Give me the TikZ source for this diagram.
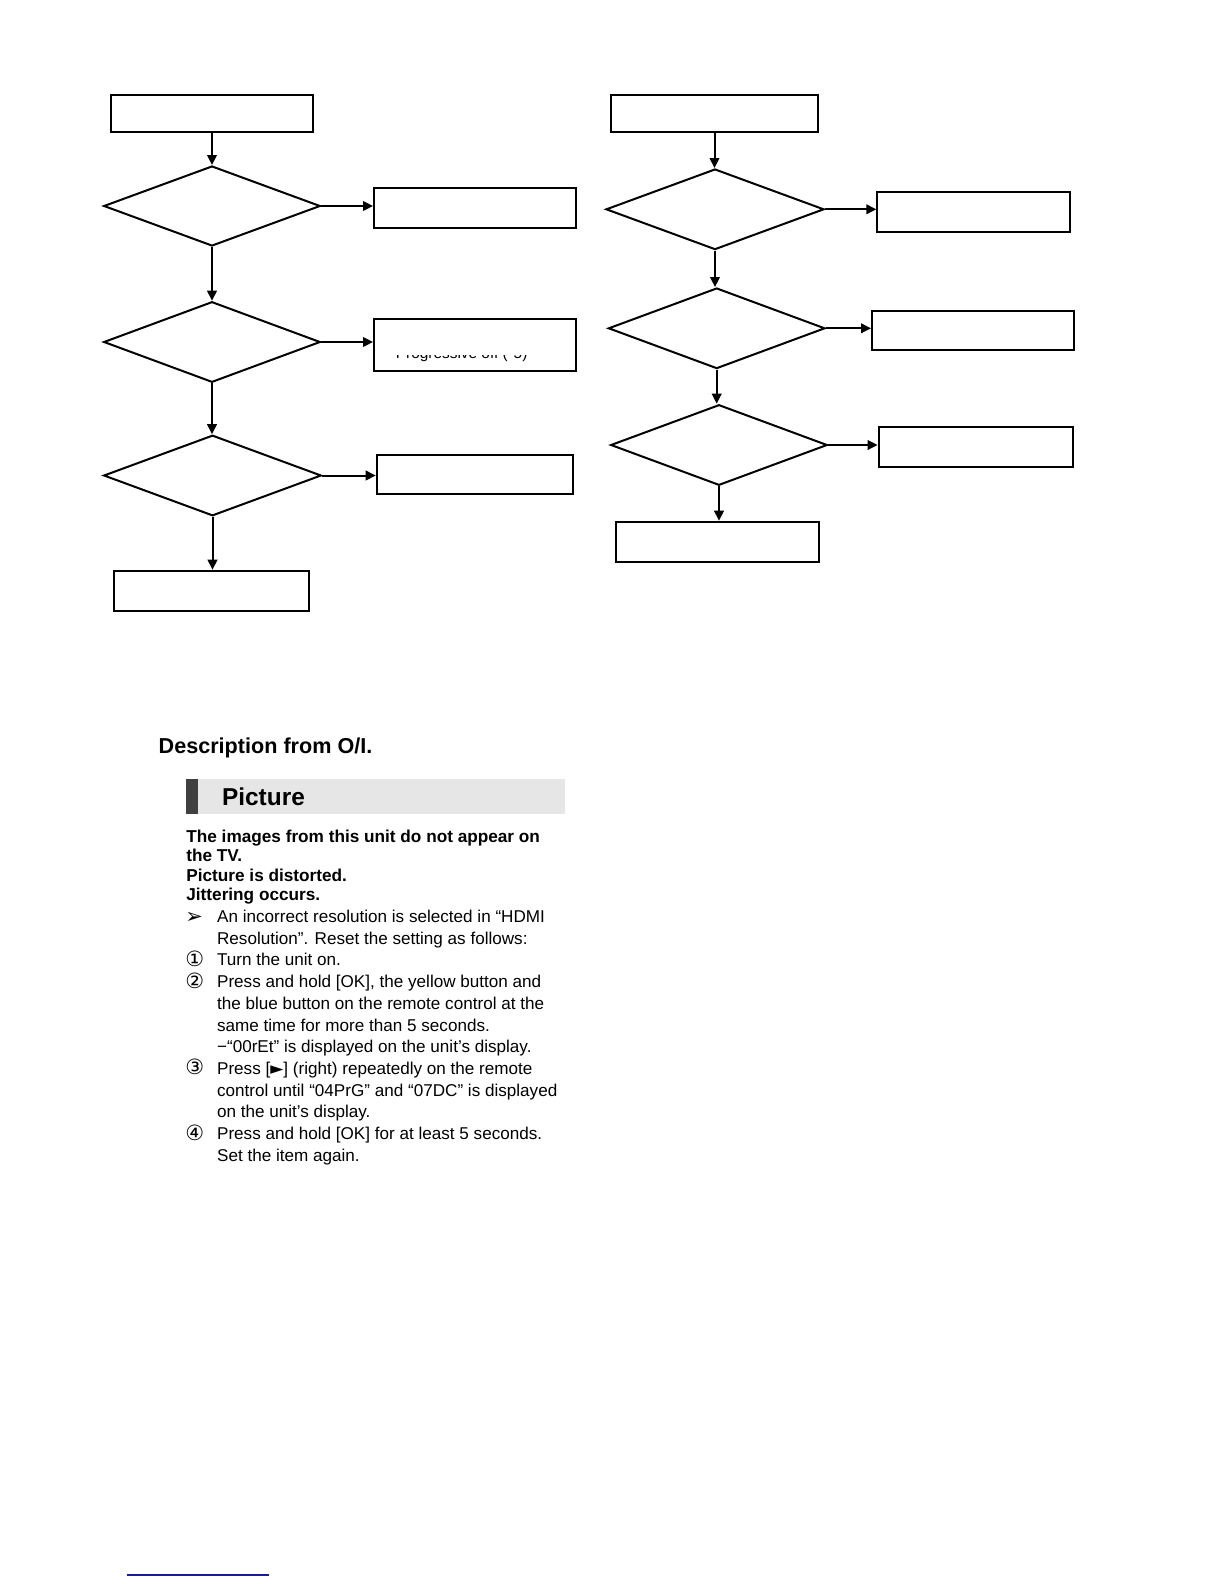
\documentclass[tikz,border=0pt]{standalone}
\usepackage{fontspec}
\setmainfont{Liberation Sans}
\newfontfamily\symfont{DejaVu Sans}
\usepackage{tikz}
\usetikzlibrary{shapes.geometric,arrows.meta}
\definecolor{barlight}{HTML}{E6E6E6}
\definecolor{bardark}{HTML}{404040}
\definecolor{linkblue}{HTML}{1A1A99}

\begin{document}
\begin{tikzpicture}[x=0.5bp,y=-0.5bp,>={Triangle[length=5bp,width=4.8bp]},
  procbox/.style={draw,line width=1bp,inner sep=0pt},
  decision/.style={draw,diamond,line width=1bp,inner sep=0pt},
  flow/.style={->,line width=1bp},
  olline/.style={anchor=base west,inner sep=0pt,font=\fontsize{8.55bp}{10.75bp}\selectfont},
  boldline/.style={anchor=base west,inner sep=0pt,font=\bfseries\fontsize{8.6bp}{9.5bp}\selectfont}]
  \useasboundingbox (0,0) rectangle (1224,1584);
  % left flow chart
  \node[procbox,minimum width=100.7bp,minimum height=18.2bp] (topL) at (212,113.5) {};
  \node[decision,minimum width=108.3bp,minimum height=40bp] (decL1) at (212,206) {};
  \node[procbox,minimum width=100.8bp,minimum height=19.8bp] (boxL1) at (474.8,208.2) {};
  \node[decision,minimum width=108.3bp,minimum height=40.3bp] (decL2) at (212,342) {};
  \node[procbox,minimum width=100.8bp,minimum height=25.8bp] (boxL2) at (474.8,345.2) {};
  \node[decision,minimum width=108.8bp,minimum height=40.3bp] (decL3) at (212.5,475.5) {};
  \node[procbox,minimum width=98.3bp,minimum height=19.8bp] (boxL3) at (475,474.5) {};
  \node[procbox,minimum width=97.5bp,minimum height=20bp] (endL) at (211.5,590.7) {};
  \draw[flow] (topL.south) -- (topL.south |- decL1.north);
  \draw[flow] (decL1.south) -- (decL1.south |- decL2.north);
  \draw[flow] (decL2.south) -- (decL2.south |- decL3.north);
  \draw[flow] (decL3.south) -- (decL3.south |- endL.north);
  \draw[flow] (decL1.east) -- (decL1.east -| boxL1.west);
  \draw[flow] (decL2.east) -- (decL2.east -| boxL2.west);
  \draw[flow] (decL3.east) -- (decL3.east -| boxL3.west);
  % only the foot of this label shows
  \begin{scope}
    \clip (376,355) rectangle (573,369);
    \node[olline,font=\fontsize{7.7bp}{9bp}\selectfont] (boxLtwotxt) at (395.5,358.5) {Progressive off (*5)};
  \end{scope}
  % right flow chart
  \node[procbox,minimum width=103.2bp,minimum height=18.2bp] (topR) at (714.5,113.5) {};
  \node[decision,minimum width=109bp,minimum height=40.3bp] (decR1) at (715,209.3) {};
  \node[procbox,minimum width=96.5bp,minimum height=19.8bp] (boxR1) at (973.8,211.8) {};
  \node[decision,minimum width=108.3bp,minimum height=40.3bp] (decR2) at (716.7,328.3) {};
  \node[procbox,minimum width=101bp,minimum height=19.7bp] (boxR2) at (973,330.3) {};
  \node[decision,minimum width=108.3bp,minimum height=40.3bp] (decR3) at (719,445) {};
  \node[procbox,minimum width=97.2bp,minimum height=19.8bp] (boxR3) at (975.8,446.8) {};
  \node[procbox,minimum width=101.7bp,minimum height=20bp] (endR) at (717.3,541.7) {};
  \draw[flow] (topR.south) -- (topR.south |- decR1.north);
  \draw[flow] (decR1.south) -- (decR1.south |- decR2.north);
  \draw[flow] (decR2.south) -- (decR2.south |- decR3.north);
  \draw[flow] (decR3.south) -- (decR3.south |- endR.north);
  \draw[flow] (decR1.east) -- (decR1.east -| boxR1.west);
  \draw[flow] (decR2.east) -- (decR2.east -| boxR2.west);
  \draw[flow] (decR3.east) -- (decR3.east -| boxR3.west);
  % description from the operating instructions
  \node[anchor=base west,inner sep=0pt,font=\bfseries\fontsize{10.8bp}{13bp}\selectfont] (desc) at (158.3,753.5) {Description from O/I.};
  \fill[barlight] (185.7,779) rectangle (565,814.3);
  \fill[bardark] (185.7,779) rectangle (197.7,814.3);
  \node[anchor=base west,inner sep=0pt,font=\bfseries\fontsize{12.2bp}{14bp}\selectfont] (pictitle) at (221.7,805.3) {Picture};
  \foreach \txt [count=\i from 0] in {{The images from this unit do not appear on},{the TV.},
      {Picture is distorted.},{Jittering occurs.}}
    \node[boldline] (sym\i) at (186,842.2+19.5*\i) {\txt};
  \foreach \txt [count=\i from 0] in {
      {An incorrect resolution is selected in “HDMI},
      {Resolution”. Reset the setting as follows:},
      {Turn the unit on.},
      {Press and hold [OK], the yellow button and},
      {the blue button on the remote control at the},
      {same time for more than 5 seconds.},
      {−“00rEt” is displayed on the unit’s display.},
      {Press [{\symfont ►}] (right) repeatedly on the remote},
      {control until “04PrG” and “07DC” is displayed},
      {on the unit’s display.},
      {Press and hold [OK] for at least 5 seconds.},
      {Set the item again.}}
    \node[olline] (step\i) at (216.7,922.5+21.7*\i) {\txt};
  \foreach \mk/\i in {➢/0,①/2,②/3,③/7,④/10}
    \node[olline,font=\symfont\fontsize{10.5bp}{12bp}\selectfont] (mark\i) at (185,923+21.7*\i) {\mk};
  % link rule at the page foot
  \draw[linkblue,line width=0.6bp] (126.7,1575) -- (269,1575);
\end{tikzpicture}
\end{document}
